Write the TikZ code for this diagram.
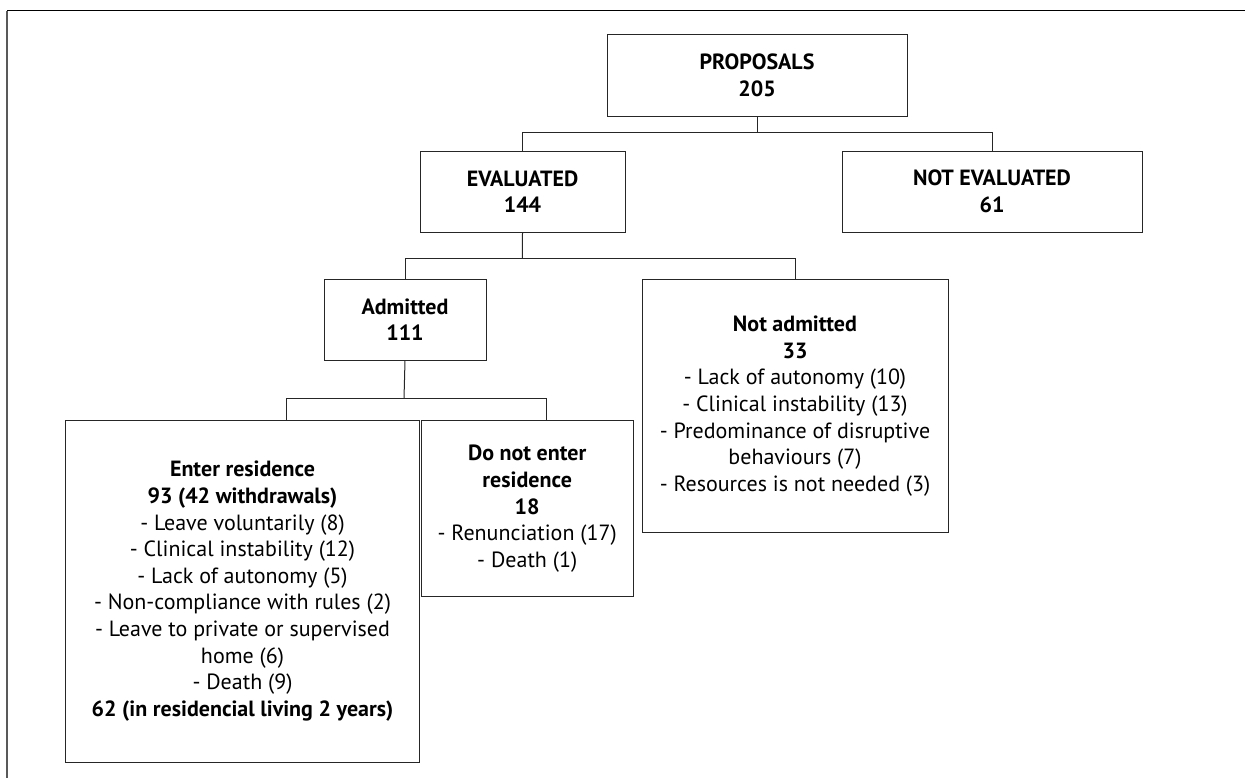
\documentclass[tikz,border=0pt]{standalone}
\usepackage{fontspec}
\setmainfont{PT Sans}
\usetikzlibrary{positioning, calc}

\tikzset{box/.style={draw=black!85, line width=0.5pt, align=center, inner sep=0pt,
    font=\fontsize{11}{13.3}\selectfont},
  link/.style={draw=black!85, line width=0.5pt}}

\begin{document}
\begin{tikzpicture}[x=0.5pt, y=-0.5pt]
    \useasboundingbox (0,0) rectangle (1245,778);
    % frame
    \draw[line width=0.8pt] (7,10.5) -- (1245,10.5);
    \draw[black!65, line width=1pt] (7,10.5) -- (7,778);

    \node[box, minimum width=150pt, minimum height=41pt] at (757,75) (P)
      {\textbf{PROPOSALS}\\\textbf{205}};
    \node[box, minimum width=102.5pt, minimum height=40.5pt] at (522.5,191.5) (E)
      {\textbf{EVALUATED}\\\textbf{144}};
    \node[box, minimum width=150pt, minimum height=40.5pt] at (992,191.5) (NE)
      {\textbf{NOT EVALUATED}\\\textbf{61}};
    \node[box, minimum width=81pt, minimum height=40.5pt] at (405,319.5) (A)
      {\textbf{Admitted}\\\textbf{111}};
    \node[box, minimum width=153pt, minimum height=126.5pt] at (795,406) (NA)
      {\textbf{Not admitted}\\\textbf{33}\\
       - Lack of autonomy (10)\\
       - Clinical instability (13)\\
       - Predominance of disruptive\\behaviours (7)\\
       - Resources is not needed (3)};
    \node[box, minimum width=176.8pt, minimum height=170.8pt] at (242.5,591.2) (R)
      {\textbf{Enter residence}\\\textbf{93 (42 withdrawals)}\\
       - Leave voluntarily (8)\\
       - Clinical instability (12)\\
       - Lack of autonomy (5)\\
       - Non-compliance with rules (2)\\
       - Leave to private or supervised\\home (6)\\
       - Death (9)\\
       \textbf{62 (in residencial living 2 years)}};
    \node[box, minimum width=106.2pt, minimum height=88pt] at (527.2,508.7) (NR)
      {\textbf{Do not enter}\\\textbf{residence}\\\textbf{18}\\
       - Renunciation (17)\\
       - Death (1)};

    % tree links
    \coordinate (b1) at (757,132.3);
    \coordinate (b2) at (522.3,258);
    \coordinate (b3) at (404,398.6);
    \coordinate (Rin) at ($(R.north west)!0.623!(R.north east)$);
    \coordinate (NRin) at ($(NR.north west)!0.592!(NR.north east)$);
    \draw[link] (P.south) -- (b1);
    \draw[link] (E.north) -- (E.north |- b1) -- (NE.north |- b1) -- (NE.north);
    \draw[link] (E.south) -- (b2);
    \draw[link] (A.north) -- (A.north |- b2) -- (NA.north |- b2) -- (NA.north);
    \draw[link] (A.south) -- (b3);
    \draw[link] (Rin) -- (Rin |- b3) -- (NRin |- b3) -- (NRin);
\end{tikzpicture}
\end{document}
